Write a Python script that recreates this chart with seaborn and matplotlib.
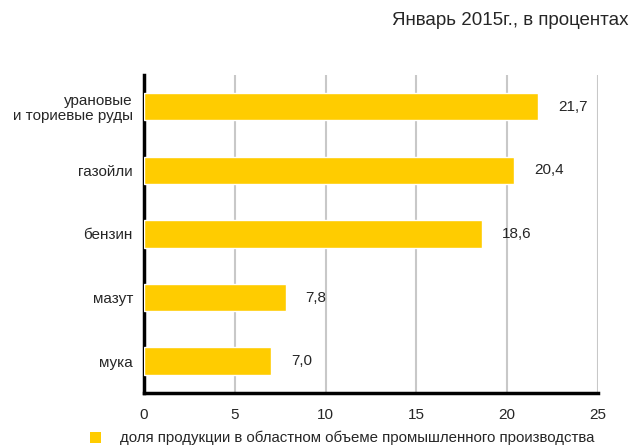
import numpy as np
import pandas as pd
import matplotlib.pyplot as plt
import seaborn as sns

categories = ['урановые\nи ториевые руды', 'газойли', 'бензин', 'мазут', 'мука']
shares = [21.7, 20.4, 18.6, 7.8, 7.0]
value_labels = ['21,7', '20,4', '18,6', '7,8', '7,0']
x_ticks = [0, 5, 10, 15, 20, 25]

sns.set_style('white')
plt.rcParams['font.family'] = ['Liberation Sans', 'DejaVu Sans']
plt.rcParams['font.size'] = 11

df = pd.DataFrame({'cat': categories, 'share': shares})

fig = plt.figure(figsize=(6.32, 4.46), dpi=100)
ax = fig.add_axes([0.228, 0.119, 0.718, 0.713])

sns.barplot(data=df, x='share', y='cat', orient='h', color='#FFCC00',
            saturation=1, width=0.43, ax=ax, zorder=3)

ax.set_xlim(0, 25)
ax.set_ylim(len(categories) - 0.5, -0.5)
ax.set_xticks(x_ticks)
ax.set_xticklabels([str(t) for t in x_ticks])
ax.xaxis.grid(True, color='#c8c8c8', linewidth=1.5, zorder=0)
ax.set_axisbelow(True)

# category labels sit between the tick marks, which mark the boundaries
ax.set_yticks(np.arange(len(categories)))
ax.set_yticklabels(categories, ha='right', linespacing=1.05)
ax.set_yticks(np.arange(len(categories) + 1) - 0.5, minor=True)
ax.tick_params(axis='y', which='major', length=0, pad=8)
ax.tick_params(axis='y', which='minor', length=5, width=2, color='black', direction='out')
ax.tick_params(axis='x', length=4, width=1.5, color='black', pad=7)

for s in ['top', 'right']:
    ax.spines[s].set_visible(False)
for s in ['left', 'bottom']:
    ax.spines[s].set_linewidth(2.5)
    ax.spines[s].set_color('black')

for i, (v, lab) in enumerate(zip(shares, value_labels)):
    ax.text(v + 1.1, i, lab, va='center', ha='left', fontsize=11)

ax.set_xlabel('')
ax.set_ylabel('')

fig.text(0.995, 0.953, 'Январь 2015г., в процентах', ha='right', va='center', fontsize=13.5)

fig.patches.append(plt.Rectangle((0.143, 0.006), 0.017, 0.026, transform=fig.transFigure,
                                 facecolor='#FFCC00', edgecolor='none'))
fig.text(0.19, 0.018, 'доля продукции в областном объеме промышленного производства',
         ha='left', va='center', fontsize=10.8)

fig.savefig('out.png', dpi=100)
